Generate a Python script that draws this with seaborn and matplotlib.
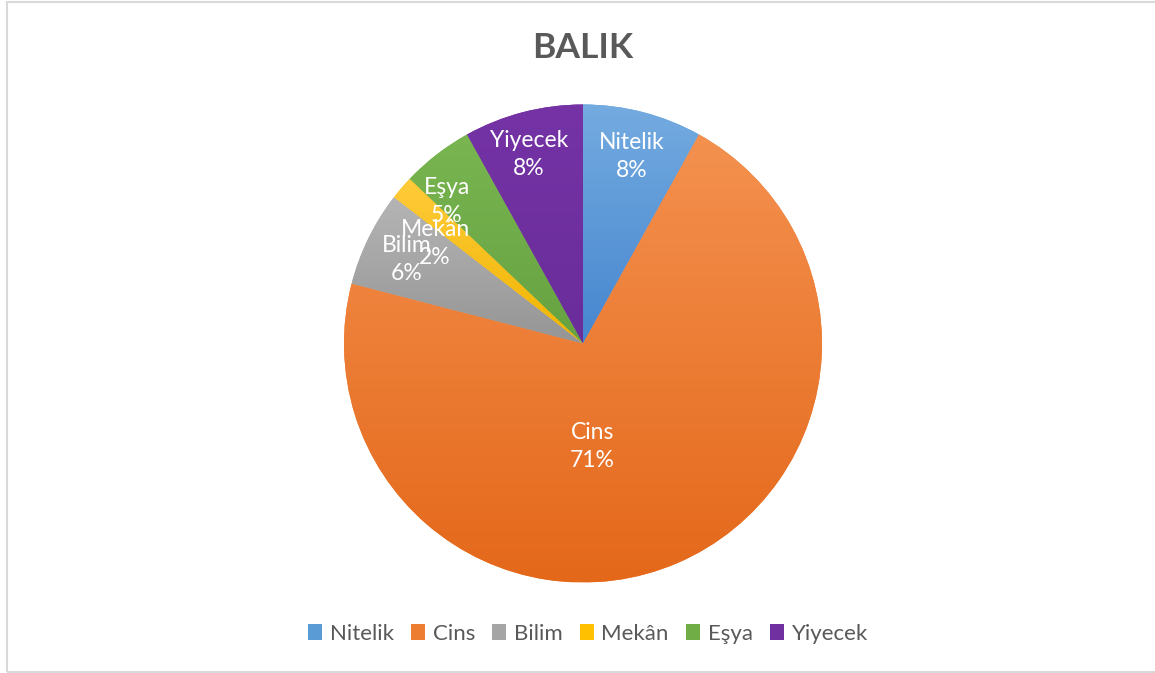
import numpy as np
import matplotlib
matplotlib.use("Agg")
import matplotlib.pyplot as plt
import seaborn as sns
from matplotlib.patches import Patch, Rectangle
from matplotlib.colors import to_rgb

# Category counts for the word "balık"
categories = ["Nitelik", "Cins", "Bilim", "Mekân", "Eşya", "Yiyecek"]
counts = [5, 44, 4, 1, 3, 5]

# Slice colours: flat base plus a light-to-dark vertical gradient
base_colors = ["#5B9BD5", "#ED7D31", "#A5A5A5", "#FFC000", "#70AD47", "#7030A0"]
top_colors = ["#74ABE0", "#F4914F", "#B5B5B5", "#FFCB3A", "#79B550", "#7533A5"]
bottom_colors = ["#4686CF", "#E4681A", "#959595", "#F0B400", "#66A241", "#6A2D9A"]

sns.set_theme(style="white")
plt.rcParams["font.family"] = ["Lato", "DejaVu Sans"]

W, H = 1155, 673
fig = plt.figure(figsize=(W / 100, H / 100), dpi=100)
ax = fig.add_axes([0, 0, 1, 1])

cx, cy, R = 583, H - 343.5, 239
wedges, _ = ax.pie(
    counts,
    colors=sns.color_palette(base_colors),
    startangle=90,
    counterclock=False,
    center=(cx, cy),
    radius=R,
    wedgeprops=dict(linewidth=0),
)

# Gradient fill clipped to each wedge
for w, ct, cb in zip(wedges, top_colors, bottom_colors):
    ext = w.get_path().get_extents()
    t = np.linspace(0, 1, 256)[:, None]
    grad = (1 - t) * np.array(to_rgb(cb)) + t * np.array(to_rgb(ct))
    img = ax.imshow(grad[:, None, :], extent=[ext.x0, ext.x1, ext.y0, ext.y1],
                    origin="lower", aspect="auto", interpolation="bilinear", zorder=2)
    img.set_clip_path(w)

# Label placement inside slices, in units of the pie radius
label_dx = [0.205, 0.038, -0.736, -0.619, -0.569, -0.226]
label_dy = [0.782, -0.431, 0.351, 0.418, 0.594, 0.791]
total = sum(counts)
for cat, c, dx, dy in zip(categories, counts, label_dx, label_dy):
    pct = round(100 * c / total)
    ax.text(cx + dx * R, cy + dy * R, f"{cat}\n{pct}%", ha="center", va="center",
            color="white", fontsize=16.5, linespacing=1.45, zorder=5)

ax.set_xlim(0, W)
ax.set_ylim(0, H)
ax.set_aspect("auto")
ax.axis("off")

fig.text(583 / W, 1 - 48 / H, "BALIK", ha="center", va="center",
         fontsize=25.5, fontweight="bold", color="#595959")

handles = [Patch(facecolor=c, edgecolor="none") for c in base_colors]
fig.legend(handles, categories, loc="center", bbox_to_anchor=(588 / W, 1 - 634 / H),
           ncol=6, frameon=False, fontsize=16, labelcolor="#595959",
           handlelength=0.62, handleheight=0.7, handletextpad=0.35, columnspacing=0.78)

fig.patches.append(Rectangle((7 / W, 1 / H), 1.2, 1 - 2.5 / H, transform=fig.transFigure,
                             fill=False, edgecolor="#D9D9D9", linewidth=1.5))

fig.savefig("out.png", dpi=100, facecolor="white")
